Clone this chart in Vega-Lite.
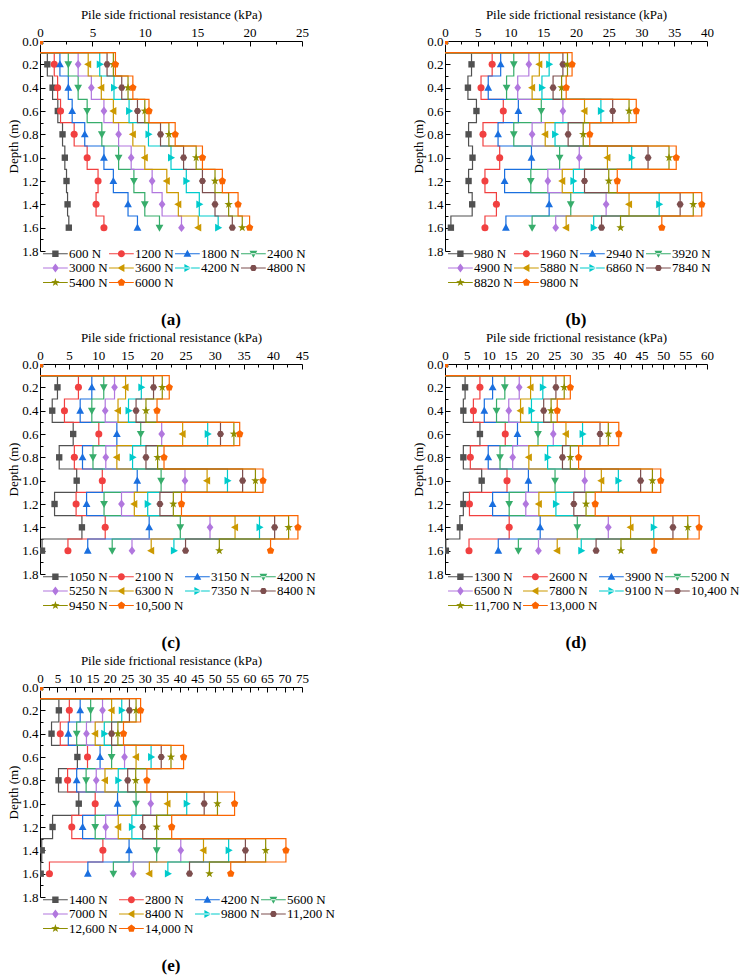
{
  "$schema": "https://vega.github.io/schema/vega-lite/v6.json",
  "padding": {"left": 7, "top": 8, "right": 2, "bottom": 5},
  "params": [
    {
      "name": "legendPaths",
      "value": [
        "M-3.5,-0.14H3.5V0.14H-3.5ZM-0.9,-0.9H0.9V0.9H-0.9Z",
        "M-3.5,-0.14H3.5V0.14H-3.5ZM1,0A1,1,0,1,1,-1,0A1,1,0,1,1,1,0Z",
        "M-3.5,-0.14H3.5V0.14H-3.5ZM0,-1.15L1.1,0.85H-1.1Z",
        "M-3.5,-0.14H3.5V0.14H-3.5ZM0,1.15L1.1,-0.85H-1.1Z",
        "M-3.5,-0.14H3.5V0.14H-3.5ZM0,-1.25L0.95,0L0,1.25L-0.95,0Z",
        "M-3.5,-0.14H3.5V0.14H-3.5ZM-1.15,0L0.85,-1.1V1.1Z",
        "M-3.5,-0.14H3.5V0.14H-3.5ZM1.15,0L-0.85,-1.1V1.1Z",
        "M-3.5,-0.14H3.5V0.14H-3.5ZM1,0L0.5,0.87H-0.5L-1,0L-0.5,-0.87H0.5Z",
        "M-3.5,-0.14H3.5V0.14H-3.5ZM0,-1.25L0.294,-0.405L1.189,-0.386L0.476,0.155L0.735,1.011L0,0.5L-0.735,1.011L-0.476,0.155L-1.189,-0.386L-0.294,-0.405Z",
        "M-3.5,-0.14H3.5V0.14H-3.5ZM0,-1.1L1.046,-0.34L0.647,0.89L-0.647,0.89L-1.046,-0.34Z"
      ]
    }
  ],
  "datasets": {
    "a": [
      {"load":"600 N","depth":0,"kPa":0},{"load":"600 N","depth":0.2,"kPa":0.7},{"load":"600 N","depth":0.4,"kPa":1.2},{"load":"600 N","depth":0.6,"kPa":1.7},{"load":"600 N","depth":0.8,"kPa":2.15},{"load":"600 N","depth":1.0,"kPa":2.37},{"load":"600 N","depth":1.2,"kPa":2.53},{"load":"600 N","depth":1.4,"kPa":2.63},{"load":"600 N","depth":1.6,"kPa":2.75},
      {"load":"1200 N","depth":0,"kPa":0},{"load":"1200 N","depth":0.2,"kPa":1.36},{"load":"1200 N","depth":0.4,"kPa":1.68},{"load":"1200 N","depth":0.6,"kPa":1.96},{"load":"1200 N","depth":0.8,"kPa":3.26},{"load":"1200 N","depth":1.0,"kPa":4.5},{"load":"1200 N","depth":1.2,"kPa":5.54},{"load":"1200 N","depth":1.4,"kPa":5.35},{"load":"1200 N","depth":1.6,"kPa":6.1},
      {"load":"1800 N","depth":0,"kPa":0},{"load":"1800 N","depth":0.2,"kPa":1.9},{"load":"1800 N","depth":0.4,"kPa":2.7},{"load":"1800 N","depth":0.6,"kPa":3.07},{"load":"1800 N","depth":0.8,"kPa":4.27},{"load":"1800 N","depth":1.0,"kPa":6.1},{"load":"1800 N","depth":1.2,"kPa":7.0},{"load":"1800 N","depth":1.4,"kPa":8.4},{"load":"1800 N","depth":1.6,"kPa":9.3},
      {"load":"2400 N","depth":0,"kPa":0},{"load":"2400 N","depth":0.2,"kPa":2.7},{"load":"2400 N","depth":0.4,"kPa":3.64},{"load":"2400 N","depth":0.6,"kPa":4.5},{"load":"2400 N","depth":0.8,"kPa":5.9},{"load":"2400 N","depth":1.0,"kPa":7.5},{"load":"2400 N","depth":1.2,"kPa":8.96},{"load":"2400 N","depth":1.4,"kPa":10.0},{"load":"2400 N","depth":1.6,"kPa":11.4},
      {"load":"3000 N","depth":0,"kPa":0},{"load":"3000 N","depth":0.2,"kPa":3.64},{"load":"3000 N","depth":0.4,"kPa":4.9},{"load":"3000 N","depth":0.6,"kPa":6.1},{"load":"3000 N","depth":0.8,"kPa":7.5},{"load":"3000 N","depth":1.0,"kPa":8.7},{"load":"3000 N","depth":1.2,"kPa":10.7},{"load":"3000 N","depth":1.4,"kPa":11.65},{"load":"3000 N","depth":1.6,"kPa":13.5},
      {"load":"3600 N","depth":0,"kPa":0},{"load":"3600 N","depth":0.2,"kPa":4.6},{"load":"3600 N","depth":0.4,"kPa":5.85},{"load":"3600 N","depth":0.6,"kPa":7.0},{"load":"3600 N","depth":0.8,"kPa":8.86},{"load":"3600 N","depth":1.0,"kPa":10.0},{"load":"3600 N","depth":1.2,"kPa":12.1},{"load":"3600 N","depth":1.4,"kPa":13.2},{"load":"3600 N","depth":1.6,"kPa":15.1},
      {"load":"4200 N","depth":0,"kPa":0},{"load":"4200 N","depth":0.2,"kPa":5.7},{"load":"4200 N","depth":0.4,"kPa":7.06},{"load":"4200 N","depth":0.6,"kPa":8.5},{"load":"4200 N","depth":0.8,"kPa":10.35},{"load":"4200 N","depth":1.0,"kPa":12.5},{"load":"4200 N","depth":1.2,"kPa":13.96},{"load":"4200 N","depth":1.4,"kPa":15.2},{"load":"4200 N","depth":1.6,"kPa":17.0},
      {"load":"4800 N","depth":0,"kPa":0},{"load":"4800 N","depth":0.2,"kPa":6.4},{"load":"4800 N","depth":0.4,"kPa":7.8},{"load":"4800 N","depth":0.6,"kPa":9.3},{"load":"4800 N","depth":0.8,"kPa":11.5},{"load":"4800 N","depth":1.0,"kPa":13.7},{"load":"4800 N","depth":1.2,"kPa":15.5},{"load":"4800 N","depth":1.4,"kPa":16.7},{"load":"4800 N","depth":1.6,"kPa":18.35},
      {"load":"5400 N","depth":0,"kPa":0},{"load":"5400 N","depth":0.2,"kPa":7.0},{"load":"5400 N","depth":0.4,"kPa":8.4},{"load":"5400 N","depth":0.6,"kPa":10.0},{"load":"5400 N","depth":0.8,"kPa":12.3},{"load":"5400 N","depth":1.0,"kPa":14.9},{"load":"5400 N","depth":1.2,"kPa":16.7},{"load":"5400 N","depth":1.4,"kPa":18.0},{"load":"5400 N","depth":1.6,"kPa":19.3},
      {"load":"6000 N","depth":0,"kPa":0},{"load":"6000 N","depth":0.2,"kPa":7.2},{"load":"6000 N","depth":0.4,"kPa":8.86},{"load":"6000 N","depth":0.6,"kPa":10.4},{"load":"6000 N","depth":0.8,"kPa":12.9},{"load":"6000 N","depth":1.0,"kPa":15.5},{"load":"6000 N","depth":1.2,"kPa":17.4},{"load":"6000 N","depth":1.4,"kPa":18.9},{"load":"6000 N","depth":1.6,"kPa":20.0}
    ],
    "b": [
      {"load":"980 N","depth":0,"kPa":0},{"load":"980 N","depth":0.2,"kPa":4.05},{"load":"980 N","depth":0.4,"kPa":3.5},{"load":"980 N","depth":0.6,"kPa":4.8},{"load":"980 N","depth":0.8,"kPa":3.6},{"load":"980 N","depth":1.0,"kPa":4.2},{"load":"980 N","depth":1.2,"kPa":3.6},{"load":"980 N","depth":1.4,"kPa":4.15},{"load":"980 N","depth":1.6,"kPa":0.9},
      {"load":"1960 N","depth":0,"kPa":0},{"load":"1960 N","depth":0.2,"kPa":7.2},{"load":"1960 N","depth":0.4,"kPa":5.5},{"load":"1960 N","depth":0.6,"kPa":8.9},{"load":"1960 N","depth":0.8,"kPa":5.8},{"load":"1960 N","depth":1.0,"kPa":8.35},{"load":"1960 N","depth":1.2,"kPa":6.1},{"load":"1960 N","depth":1.4,"kPa":7.85},{"load":"1960 N","depth":1.6,"kPa":6.1},
      {"load":"2940 N","depth":0,"kPa":0},{"load":"2940 N","depth":0.2,"kPa":8.5},{"load":"2940 N","depth":0.4,"kPa":6.6},{"load":"2940 N","depth":0.6,"kPa":11.2},{"load":"2940 N","depth":0.8,"kPa":8.1},{"load":"2940 N","depth":1.0,"kPa":13.2},{"load":"2940 N","depth":1.2,"kPa":9.1},{"load":"2940 N","depth":1.4,"kPa":15.9},{"load":"2940 N","depth":1.6,"kPa":9.3},
      {"load":"3920 N","depth":0,"kPa":0},{"load":"3920 N","depth":0.2,"kPa":10.5},{"load":"3920 N","depth":0.4,"kPa":9.4},{"load":"3920 N","depth":0.6,"kPa":14.7},{"load":"3920 N","depth":0.8,"kPa":10.5},{"load":"3920 N","depth":1.0,"kPa":17.5},{"load":"3920 N","depth":1.2,"kPa":13.1},{"load":"3920 N","depth":1.4,"kPa":19.2},{"load":"3920 N","depth":1.6,"kPa":13.3},
      {"load":"4900 N","depth":0,"kPa":0},{"load":"4900 N","depth":0.2,"kPa":12.8},{"load":"4900 N","depth":0.4,"kPa":11.1},{"load":"4900 N","depth":0.6,"kPa":18.0},{"load":"4900 N","depth":0.8,"kPa":13.3},{"load":"4900 N","depth":1.0,"kPa":20.5},{"load":"4900 N","depth":1.2,"kPa":15.7},{"load":"4900 N","depth":1.4,"kPa":24.6},{"load":"4900 N","depth":1.6,"kPa":16.9},
      {"load":"5880 N","depth":0,"kPa":0},{"load":"5880 N","depth":0.2,"kPa":14.4},{"load":"5880 N","depth":0.4,"kPa":13.3},{"load":"5880 N","depth":0.6,"kPa":21.3},{"load":"5880 N","depth":0.8,"kPa":15.3},{"load":"5880 N","depth":1.0,"kPa":24.8},{"load":"5880 N","depth":1.2,"kPa":17.9},{"load":"5880 N","depth":1.4,"kPa":28.1},{"load":"5880 N","depth":1.6,"kPa":18.5},
      {"load":"6860 N","depth":0,"kPa":0},{"load":"6860 N","depth":0.2,"kPa":15.9},{"load":"6860 N","depth":0.4,"kPa":14.8},{"load":"6860 N","depth":0.6,"kPa":23.8},{"load":"6860 N","depth":0.8,"kPa":16.8},{"load":"6860 N","depth":1.0,"kPa":28.5},{"load":"6860 N","depth":1.2,"kPa":19.6},{"load":"6860 N","depth":1.4,"kPa":32.7},{"load":"6860 N","depth":1.6,"kPa":22.7},
      {"load":"7840 N","depth":0,"kPa":0},{"load":"7840 N","depth":0.2,"kPa":18.0},{"load":"7840 N","depth":0.4,"kPa":16.5},{"load":"7840 N","depth":0.6,"kPa":25.6},{"load":"7840 N","depth":0.8,"kPa":18.8},{"load":"7840 N","depth":1.0,"kPa":31.0},{"load":"7840 N","depth":1.2,"kPa":21.3},{"load":"7840 N","depth":1.4,"kPa":35.9},{"load":"7840 N","depth":1.6,"kPa":23.9},
      {"load":"8820 N","depth":0,"kPa":0},{"load":"8820 N","depth":0.2,"kPa":18.7},{"load":"8820 N","depth":0.4,"kPa":17.8},{"load":"8820 N","depth":0.6,"kPa":28.1},{"load":"8820 N","depth":0.8,"kPa":21.1},{"load":"8820 N","depth":1.0,"kPa":34.2},{"load":"8820 N","depth":1.2,"kPa":25.0},{"load":"8820 N","depth":1.4,"kPa":37.9},{"load":"8820 N","depth":1.6,"kPa":26.8},
      {"load":"9800 N","depth":0,"kPa":0},{"load":"9800 N","depth":0.2,"kPa":19.4},{"load":"9800 N","depth":0.4,"kPa":18.5},{"load":"9800 N","depth":0.6,"kPa":29.2},{"load":"9800 N","depth":0.8,"kPa":22.1},{"load":"9800 N","depth":1.0,"kPa":35.3},{"load":"9800 N","depth":1.2,"kPa":26.3},{"load":"9800 N","depth":1.4,"kPa":39.2},{"load":"9800 N","depth":1.6,"kPa":33.1}
    ],
    "c": [
      {"load":"1050 N","depth":0,"kPa":0},{"load":"1050 N","depth":0.2,"kPa":3.0},{"load":"1050 N","depth":0.4,"kPa":2.1},{"load":"1050 N","depth":0.6,"kPa":5.7},{"load":"1050 N","depth":0.8,"kPa":3.3},{"load":"1050 N","depth":1.0,"kPa":6.3},{"load":"1050 N","depth":1.2,"kPa":2.5},{"load":"1050 N","depth":1.4,"kPa":7.2},{"load":"1050 N","depth":1.6,"kPa":0.35},
      {"load":"2100 N","depth":0,"kPa":0},{"load":"2100 N","depth":0.2,"kPa":6.6},{"load":"2100 N","depth":0.4,"kPa":4.2},{"load":"2100 N","depth":0.6,"kPa":10.1},{"load":"2100 N","depth":0.8,"kPa":5.9},{"load":"2100 N","depth":1.0,"kPa":10.7},{"load":"2100 N","depth":1.2,"kPa":6.2},{"load":"2100 N","depth":1.4,"kPa":11.2},{"load":"2100 N","depth":1.6,"kPa":4.8},
      {"load":"3150 N","depth":0,"kPa":0},{"load":"3150 N","depth":0.2,"kPa":8.9},{"load":"3150 N","depth":0.4,"kPa":6.9},{"load":"3150 N","depth":0.6,"kPa":13.2},{"load":"3150 N","depth":0.8,"kPa":7.3},{"load":"3150 N","depth":1.0,"kPa":16.7},{"load":"3150 N","depth":1.2,"kPa":8.0},{"load":"3150 N","depth":1.4,"kPa":18.75},{"load":"3150 N","depth":1.6,"kPa":8.2},
      {"load":"4200 N","depth":0,"kPa":0},{"load":"4200 N","depth":0.2,"kPa":10.95},{"load":"4200 N","depth":0.4,"kPa":8.9},{"load":"4200 N","depth":0.6,"kPa":17.3},{"load":"4200 N","depth":0.8,"kPa":9.1},{"load":"4200 N","depth":1.0,"kPa":20.8},{"load":"4200 N","depth":1.2,"kPa":11.0},{"load":"4200 N","depth":1.4,"kPa":24.1},{"load":"4200 N","depth":1.6,"kPa":12.4},
      {"load":"5250 N","depth":0,"kPa":0},{"load":"5250 N","depth":0.2,"kPa":12.8},{"load":"5250 N","depth":0.4,"kPa":11.2},{"load":"5250 N","depth":0.6,"kPa":20.9},{"load":"5250 N","depth":0.8,"kPa":11.3},{"load":"5250 N","depth":1.0,"kPa":24.9},{"load":"5250 N","depth":1.2,"kPa":14.0},{"load":"5250 N","depth":1.4,"kPa":29.2},{"load":"5250 N","depth":1.6,"kPa":15.8},
      {"load":"6300 N","depth":0,"kPa":0},{"load":"6300 N","depth":0.2,"kPa":14.7},{"load":"6300 N","depth":0.4,"kPa":13.4},{"load":"6300 N","depth":0.6,"kPa":24.5},{"load":"6300 N","depth":0.8,"kPa":13.2},{"load":"6300 N","depth":1.0,"kPa":28.7},{"load":"6300 N","depth":1.2,"kPa":16.2},{"load":"6300 N","depth":1.4,"kPa":33.5},{"load":"6300 N","depth":1.6,"kPa":19.1},
      {"load":"7350 N","depth":0,"kPa":0},{"load":"7350 N","depth":0.2,"kPa":17.4},{"load":"7350 N","depth":0.4,"kPa":15.2},{"load":"7350 N","depth":0.6,"kPa":28.8},{"load":"7350 N","depth":0.8,"kPa":15.9},{"load":"7350 N","depth":1.0,"kPa":32.2},{"load":"7350 N","depth":1.2,"kPa":18.5},{"load":"7350 N","depth":1.4,"kPa":37.7},{"load":"7350 N","depth":1.6,"kPa":23.0},
      {"load":"8400 N","depth":0,"kPa":0},{"load":"8400 N","depth":0.2,"kPa":19.5},{"load":"8400 N","depth":0.4,"kPa":16.5},{"load":"8400 N","depth":0.6,"kPa":31.0},{"load":"8400 N","depth":0.8,"kPa":18.2},{"load":"8400 N","depth":1.0,"kPa":34.8},{"load":"8400 N","depth":1.2,"kPa":20.6},{"load":"8400 N","depth":1.4,"kPa":40.3},{"load":"8400 N","depth":1.6,"kPa":25.0},
      {"load":"9450 N","depth":0,"kPa":0},{"load":"9450 N","depth":0.2,"kPa":21.0},{"load":"9450 N","depth":0.4,"kPa":18.2},{"load":"9450 N","depth":0.6,"kPa":33.3},{"load":"9450 N","depth":0.8,"kPa":20.2},{"load":"9450 N","depth":1.0,"kPa":37.0},{"load":"9450 N","depth":1.2,"kPa":22.9},{"load":"9450 N","depth":1.4,"kPa":42.7},{"load":"9450 N","depth":1.6,"kPa":30.8},
      {"load":"10,500 N","depth":0,"kPa":0},{"load":"10,500 N","depth":0.2,"kPa":22.2},{"load":"10,500 N","depth":0.4,"kPa":20.1},{"load":"10,500 N","depth":0.6,"kPa":34.3},{"load":"10,500 N","depth":0.8,"kPa":21.3},{"load":"10,500 N","depth":1.0,"kPa":38.3},{"load":"10,500 N","depth":1.2,"kPa":24.3},{"load":"10,500 N","depth":1.4,"kPa":44.3},{"load":"10,500 N","depth":1.6,"kPa":39.6}
    ],
    "d": [
      {"load":"1300 N","depth":0,"kPa":0},{"load":"1300 N","depth":0.2,"kPa":4.6},{"load":"1300 N","depth":0.4,"kPa":4.2},{"load":"1300 N","depth":0.6,"kPa":8.0},{"load":"1300 N","depth":0.8,"kPa":4.2},{"load":"1300 N","depth":1.0,"kPa":8.4},{"load":"1300 N","depth":1.2,"kPa":4.2},{"load":"1300 N","depth":1.4,"kPa":3.4},{"load":"1300 N","depth":1.6,"kPa":0.2},
      {"load":"2600 N","depth":0,"kPa":0},{"load":"2600 N","depth":0.2,"kPa":8.0},{"load":"2600 N","depth":0.4,"kPa":6.5},{"load":"2600 N","depth":0.6,"kPa":13.8},{"load":"2600 N","depth":0.8,"kPa":5.8},{"load":"2600 N","depth":1.0,"kPa":14.2},{"load":"2600 N","depth":1.2,"kPa":5.6},{"load":"2600 N","depth":1.4,"kPa":14.7},{"load":"2600 N","depth":1.6,"kPa":5.5},
      {"load":"3900 N","depth":0,"kPa":0},{"load":"3900 N","depth":0.2,"kPa":10.9},{"load":"3900 N","depth":0.4,"kPa":9.0},{"load":"3900 N","depth":0.6,"kPa":16.6},{"load":"3900 N","depth":0.8,"kPa":9.9},{"load":"3900 N","depth":1.0,"kPa":19.1},{"load":"3900 N","depth":1.2,"kPa":10.9},{"load":"3900 N","depth":1.4,"kPa":21.8},{"load":"3900 N","depth":1.6,"kPa":12.2},
      {"load":"5200 N","depth":0,"kPa":0},{"load":"5200 N","depth":0.2,"kPa":13.7},{"load":"5200 N","depth":0.4,"kPa":11.8},{"load":"5200 N","depth":0.6,"kPa":21.3},{"load":"5200 N","depth":0.8,"kPa":12.6},{"load":"5200 N","depth":1.0,"kPa":25.2},{"load":"5200 N","depth":1.2,"kPa":14.7},{"load":"5200 N","depth":1.4,"kPa":30.3},{"load":"5200 N","depth":1.6,"kPa":16.8},
      {"load":"6500 N","depth":0,"kPa":0},{"load":"6500 N","depth":0.2,"kPa":17.0},{"load":"6500 N","depth":0.4,"kPa":14.6},{"load":"6500 N","depth":0.6,"kPa":24.8},{"load":"6500 N","depth":0.8,"kPa":15.5},{"load":"6500 N","depth":1.0,"kPa":32.0},{"load":"6500 N","depth":1.2,"kPa":18.5},{"load":"6500 N","depth":1.4,"kPa":37.4},{"load":"6500 N","depth":1.6,"kPa":21.4},
      {"load":"7800 N","depth":0,"kPa":0},{"load":"7800 N","depth":0.2,"kPa":19.6},{"load":"7800 N","depth":0.4,"kPa":17.3},{"load":"7800 N","depth":0.6,"kPa":27.7},{"load":"7800 N","depth":0.8,"kPa":19.2},{"load":"7800 N","depth":1.0,"kPa":35.8},{"load":"7800 N","depth":1.2,"kPa":21.5},{"load":"7800 N","depth":1.4,"kPa":42.5},{"load":"7800 N","depth":1.6,"kPa":25.7},
      {"load":"9100 N","depth":0,"kPa":0},{"load":"9100 N","depth":0.2,"kPa":22.4},{"load":"9100 N","depth":0.4,"kPa":19.8},{"load":"9100 N","depth":0.6,"kPa":31.5},{"load":"9100 N","depth":0.8,"kPa":23.5},{"load":"9100 N","depth":1.0,"kPa":39.7},{"load":"9100 N","depth":1.2,"kPa":25.4},{"load":"9100 N","depth":1.4,"kPa":47.8},{"load":"9100 N","depth":1.6,"kPa":31.2},
      {"load":"10,400 N","depth":0,"kPa":0},{"load":"10,400 N","depth":0.2,"kPa":25.4},{"load":"10,400 N","depth":0.4,"kPa":22.6},{"load":"10,400 N","depth":0.6,"kPa":35.5},{"load":"10,400 N","depth":0.8,"kPa":26.9},{"load":"10,400 N","depth":1.0,"kPa":44.8},{"load":"10,400 N","depth":1.2,"kPa":29.5},{"load":"10,400 N","depth":1.4,"kPa":52.2},{"load":"10,400 N","depth":1.6,"kPa":34.6},
      {"load":"11,700 N","depth":0,"kPa":0},{"load":"11,700 N","depth":0.2,"kPa":27.3},{"load":"11,700 N","depth":0.4,"kPa":24.3},{"load":"11,700 N","depth":0.6,"kPa":37.4},{"load":"11,700 N","depth":0.8,"kPa":28.7},{"load":"11,700 N","depth":1.0,"kPa":47.5},{"load":"11,700 N","depth":1.2,"kPa":32.3},{"load":"11,700 N","depth":1.4,"kPa":55.6},{"load":"11,700 N","depth":1.6,"kPa":40.3},
      {"load":"13,000 N","depth":0,"kPa":0},{"load":"13,000 N","depth":0.2,"kPa":28.7},{"load":"13,000 N","depth":0.4,"kPa":25.7},{"load":"13,000 N","depth":0.6,"kPa":39.8},{"load":"13,000 N","depth":0.8,"kPa":30.6},{"load":"13,000 N","depth":1.0,"kPa":49.4},{"load":"13,000 N","depth":1.2,"kPa":34.4},{"load":"13,000 N","depth":1.4,"kPa":58.2},{"load":"13,000 N","depth":1.6,"kPa":47.9}
    ],
    "e": [
      {"load":"1400 N","depth":0,"kPa":0},{"load":"1400 N","depth":0.2,"kPa":5.4},{"load":"1400 N","depth":0.4,"kPa":3.3},{"load":"1400 N","depth":0.6,"kPa":10.7},{"load":"1400 N","depth":0.8,"kPa":5.3},{"load":"1400 N","depth":1.0,"kPa":11.1},{"load":"1400 N","depth":1.2,"kPa":3.6},{"load":"1400 N","depth":1.4,"kPa":0.5},{"load":"1400 N","depth":1.6,"kPa":0.2},
      {"load":"2800 N","depth":0,"kPa":0},{"load":"2800 N","depth":0.2,"kPa":8.4},{"load":"2800 N","depth":0.4,"kPa":5.8},{"load":"2800 N","depth":0.6,"kPa":13.6},{"load":"2800 N","depth":0.8,"kPa":7.9},{"load":"2800 N","depth":1.0,"kPa":15.8},{"load":"2800 N","depth":1.2,"kPa":9.1},{"load":"2800 N","depth":1.4,"kPa":18.0},{"load":"2800 N","depth":1.6,"kPa":2.7},
      {"load":"4200 N","depth":0,"kPa":0},{"load":"4200 N","depth":0.2,"kPa":11.5},{"load":"4200 N","depth":0.4,"kPa":8.1},{"load":"4200 N","depth":0.6,"kPa":17.2},{"load":"4200 N","depth":0.8,"kPa":10.5},{"load":"4200 N","depth":1.0,"kPa":22.2},{"load":"4200 N","depth":1.2,"kPa":12.2},{"load":"4200 N","depth":1.4,"kPa":25.5},{"load":"4200 N","depth":1.6,"kPa":13.7},
      {"load":"5600 N","depth":0,"kPa":0},{"load":"5600 N","depth":0.2,"kPa":14.5},{"load":"5600 N","depth":0.4,"kPa":10.5},{"load":"5600 N","depth":0.6,"kPa":20.5},{"load":"5600 N","depth":0.8,"kPa":13.2},{"load":"5600 N","depth":1.0,"kPa":27.5},{"load":"5600 N","depth":1.2,"kPa":15.8},{"load":"5600 N","depth":1.4,"kPa":33.4},{"load":"5600 N","depth":1.6,"kPa":21.0},
      {"load":"7000 N","depth":0,"kPa":0},{"load":"7000 N","depth":0.2,"kPa":17.9},{"load":"7000 N","depth":0.4,"kPa":13.3},{"load":"7000 N","depth":0.6,"kPa":24.2},{"load":"7000 N","depth":0.8,"kPa":16.1},{"load":"7000 N","depth":1.0,"kPa":31.7},{"load":"7000 N","depth":1.2,"kPa":18.8},{"load":"7000 N","depth":1.4,"kPa":40.3},{"load":"7000 N","depth":1.6,"kPa":26.7},
      {"load":"8400 N","depth":0,"kPa":0},{"load":"8400 N","depth":0.2,"kPa":20.5},{"load":"8400 N","depth":0.4,"kPa":15.8},{"load":"8400 N","depth":0.6,"kPa":27.5},{"load":"8400 N","depth":0.8,"kPa":18.6},{"load":"8400 N","depth":1.0,"kPa":36.5},{"load":"8400 N","depth":1.2,"kPa":22.4},{"load":"8400 N","depth":1.4,"kPa":46.8},{"load":"8400 N","depth":1.6,"kPa":31.3},
      {"load":"9800 N","depth":0,"kPa":0},{"load":"9800 N","depth":0.2,"kPa":23.4},{"load":"9800 N","depth":0.4,"kPa":18.4},{"load":"9800 N","depth":0.6,"kPa":31.8},{"load":"9800 N","depth":0.8,"kPa":22.4},{"load":"9800 N","depth":1.0,"kPa":42.0},{"load":"9800 N","depth":1.2,"kPa":26.3},{"load":"9800 N","depth":1.4,"kPa":54.0},{"load":"9800 N","depth":1.6,"kPa":36.6},
      {"load":"11,200 N","depth":0,"kPa":0},{"load":"11,200 N","depth":0.2,"kPa":25.6},{"load":"11,200 N","depth":0.4,"kPa":20.5},{"load":"11,200 N","depth":0.6,"kPa":34.7},{"load":"11,200 N","depth":0.8,"kPa":25.1},{"load":"11,200 N","depth":1.0,"kPa":47.0},{"load":"11,200 N","depth":1.2,"kPa":29.4},{"load":"11,200 N","depth":1.4,"kPa":58.8},{"load":"11,200 N","depth":1.6,"kPa":42.8},
      {"load":"12,600 N","depth":0,"kPa":0},{"load":"12,600 N","depth":0.2,"kPa":27.5},{"load":"12,600 N","depth":0.4,"kPa":22.3},{"load":"12,600 N","depth":0.6,"kPa":37.5},{"load":"12,600 N","depth":0.8,"kPa":27.4},{"load":"12,600 N","depth":1.0,"kPa":50.8},{"load":"12,600 N","depth":1.2,"kPa":33.4},{"load":"12,600 N","depth":1.4,"kPa":64.6},{"load":"12,600 N","depth":1.6,"kPa":48.5},
      {"load":"14,000 N","depth":0,"kPa":0},{"load":"14,000 N","depth":0.2,"kPa":28.8},{"load":"14,000 N","depth":0.4,"kPa":23.9},{"load":"14,000 N","depth":0.6,"kPa":41.1},{"load":"14,000 N","depth":0.8,"kPa":30.6},{"load":"14,000 N","depth":1.0,"kPa":55.7},{"load":"14,000 N","depth":1.2,"kPa":37.7},{"load":"14,000 N","depth":1.4,"kPa":70.4},{"load":"14,000 N","depth":1.6,"kPa":54.6}
    ]
  },
  "columns": 2,
  "spacing": {"row": 3, "column": 70},
  "resolve": {"scale": {"color": "independent", "shape": "independent"}, "legend": {"color": "independent", "shape": "independent"}},
  "concat": [
    {
      "data": {"name": "a"},
      "width": 262, "height": 210,
      "title": {"text": "(a)", "orient": "bottom", "font": "Liberation Serif", "fontSize": 17, "fontWeight": "bold", "color": "black", "offset": 15},
      "encoding": {
        "x": {"field": "kPa", "type": "quantitative", "scale": {"domain": [0, 25], "nice": false},
          "axis": {"orient": "top", "title": "Pile side frictional resistance (kPa)", "values": [0, 2.5, 5, 7.5, 10, 12.5, 15, 17.5, 20, 22.5, 25], "format": "d", "labelOverlap": false, "labelFlush": false, "labelExpr": "datum.value % 5 === 0 ? datum.label : ''", "tickSize": {"condition": {"test": "datum.value % 5 === 0", "value": -5}, "value": -3}, "labelFont": "Liberation Serif", "labelFontSize": 13, "titleFont": "Liberation Serif", "titleFontSize": 13, "titleFontWeight": "normal", "labelColor": "black", "titleColor": "black", "domainColor": "black", "tickColor": "black", "grid": false, "labelPadding": 7, "titlePadding": 3}},
        "y": {"field": "depth", "type": "quantitative", "title": "Depth (m)", "scale": {"domain": [0, 1.8], "reverse": true, "nice": false},
          "axis": {"values": [0, 0.1, 0.2, 0.3, 0.4, 0.5, 0.6, 0.7, 0.8, 0.9, 1.0, 1.1, 1.2, 1.3, 1.4, 1.5, 1.6, 1.7, 1.8], "format": ".1f", "labelFlush": false, "labelExpr": "round(datum.value * 10) % 2 === 0 ? datum.label : ''", "tickSize": {"condition": {"test": "round(datum.value * 10) % 2 === 0", "value": -5}, "value": -3}, "labelFont": "Liberation Serif", "labelFontSize": 13, "titleFont": "Liberation Serif", "titleFontSize": 13, "titleFontWeight": "normal", "labelColor": "black", "titleColor": "black", "domainColor": "black", "tickColor": "black", "grid": false, "labelPadding": 7, "titlePadding": 1}},
        "color": {"field": "load", "type": "nominal",
          "scale": {"domain": ["600 N","1200 N","1800 N","2400 N","3000 N","3600 N","4200 N","4800 N","5400 N","6000 N"], "range": ["#515151","#F14040","#1A6FDF","#37AD6B","#B177DE","#CC9900","#00CBCC","#7D4E4E","#8E8E00","#FB6501"]},
          "legend": {"title": null, "orient": "bottom", "offset": -11, "columns": 4, "labelFont": "Liberation Serif", "labelFontSize": 13, "labelColor": "black", "symbolSize": 50, "symbolStrokeWidth": 0, "symbolOffset": 1.9, "labelOffset": 7, "columnPadding": 1, "rowPadding": 0.5, "padding": 7,
            "encode": {"symbols": {"update": {"shape": {"signal": "legendPaths[datum.index]"}}}}}}
      },
      "layer": [
        {
          "transform": [{"calculate": "min(datum.depth + 0.1, 1.6)", "as": "edge"}],
          "mark": {"type": "line", "interpolate": "step-after", "strokeWidth": 1.2},
          "encoding": {
            "y": {"field": "edge", "type": "quantitative", "title": "Depth (m)", "scale": {"domain": [0, 1.8], "reverse": true, "nice": false}},
            "order": {"field": "depth"}
          }
        },
        {
          "mark": {"type": "point", "filled": true, "size": 50, "opacity": 1, "strokeWidth": 0, "clip": true},
          "encoding": {
            "shape": {"field": "load", "type": "nominal", "legend": null,
              "scale": {"domain": ["6000 N","5400 N","4800 N","4200 N","3600 N","3000 N","2400 N","1800 N","1200 N","600 N"], "range": ["M0,-1.1L1.046,-0.34L0.647,0.89L-0.647,0.89L-1.046,-0.34Z","M0,-1.25L0.294,-0.405L1.189,-0.386L0.476,0.155L0.735,1.011L0,0.5L-0.735,1.011L-0.476,0.155L-1.189,-0.386L-0.294,-0.405Z","M1,0L0.5,0.87H-0.5L-1,0L-0.5,-0.87H0.5Z","M1.15,0L-0.85,-1.1V1.1Z","M-1.15,0L0.85,-1.1V1.1Z","M0,-1.25L0.95,0L0,1.25L-0.95,0Z","M0,1.15L1.1,-0.85H-1.1Z","M0,-1.15L1.1,0.85H-1.1Z","circle","M-0.9,-0.9H0.9V0.9H-0.9Z"]}}
          }
        }
      ]
    },
    {
      "data": {"name": "b"},
      "width": 262, "height": 210,
      "title": {"text": "(b)", "orient": "bottom", "font": "Liberation Serif", "fontSize": 17, "fontWeight": "bold", "color": "black", "offset": 15},
      "encoding": {
        "x": {"field": "kPa", "type": "quantitative", "scale": {"domain": [0, 40], "nice": false},
          "axis": {"orient": "top", "title": "Pile side frictional resistance (kPa)", "values": [0, 2.5, 5, 7.5, 10, 12.5, 15, 17.5, 20, 22.5, 25, 27.5, 30, 32.5, 35, 37.5, 40], "format": "d", "labelOverlap": false, "labelFlush": false, "labelExpr": "datum.value % 5 === 0 ? datum.label : ''", "tickSize": {"condition": {"test": "datum.value % 5 === 0", "value": -5}, "value": -3}, "labelFont": "Liberation Serif", "labelFontSize": 13, "titleFont": "Liberation Serif", "titleFontSize": 13, "titleFontWeight": "normal", "labelColor": "black", "titleColor": "black", "domainColor": "black", "tickColor": "black", "grid": false, "labelPadding": 7, "titlePadding": 3}},
        "y": {"field": "depth", "type": "quantitative", "title": "Depth (m)", "scale": {"domain": [0, 1.8], "reverse": true, "nice": false},
          "axis": {"values": [0, 0.1, 0.2, 0.3, 0.4, 0.5, 0.6, 0.7, 0.8, 0.9, 1.0, 1.1, 1.2, 1.3, 1.4, 1.5, 1.6, 1.7, 1.8], "format": ".1f", "labelFlush": false, "labelExpr": "round(datum.value * 10) % 2 === 0 ? datum.label : ''", "tickSize": {"condition": {"test": "round(datum.value * 10) % 2 === 0", "value": -5}, "value": -3}, "labelFont": "Liberation Serif", "labelFontSize": 13, "titleFont": "Liberation Serif", "titleFontSize": 13, "titleFontWeight": "normal", "labelColor": "black", "titleColor": "black", "domainColor": "black", "tickColor": "black", "grid": false, "labelPadding": 7, "titlePadding": 1}},
        "color": {"field": "load", "type": "nominal",
          "scale": {"domain": ["980 N","1960 N","2940 N","3920 N","4900 N","5880 N","6860 N","7840 N","8820 N","9800 N"], "range": ["#515151","#F14040","#1A6FDF","#37AD6B","#B177DE","#CC9900","#00CBCC","#7D4E4E","#8E8E00","#FB6501"]},
          "legend": {"title": null, "orient": "bottom", "offset": -11, "columns": 4, "labelFont": "Liberation Serif", "labelFontSize": 13, "labelColor": "black", "symbolSize": 50, "symbolStrokeWidth": 0, "symbolOffset": 1.9, "labelOffset": 7, "columnPadding": 1, "rowPadding": 0.5, "padding": 7,
            "encode": {"symbols": {"update": {"shape": {"signal": "legendPaths[datum.index]"}}}}}}
      },
      "layer": [
        {
          "transform": [{"calculate": "min(datum.depth + 0.1, 1.6)", "as": "edge"}],
          "mark": {"type": "line", "interpolate": "step-after", "strokeWidth": 1.2},
          "encoding": {
            "y": {"field": "edge", "type": "quantitative", "title": "Depth (m)", "scale": {"domain": [0, 1.8], "reverse": true, "nice": false}},
            "order": {"field": "depth"}
          }
        },
        {
          "mark": {"type": "point", "filled": true, "size": 50, "opacity": 1, "strokeWidth": 0, "clip": true},
          "encoding": {
            "shape": {"field": "load", "type": "nominal", "legend": null,
              "scale": {"domain": ["9800 N","8820 N","7840 N","6860 N","5880 N","4900 N","3920 N","2940 N","1960 N","980 N"], "range": ["M0,-1.1L1.046,-0.34L0.647,0.89L-0.647,0.89L-1.046,-0.34Z","M0,-1.25L0.294,-0.405L1.189,-0.386L0.476,0.155L0.735,1.011L0,0.5L-0.735,1.011L-0.476,0.155L-1.189,-0.386L-0.294,-0.405Z","M1,0L0.5,0.87H-0.5L-1,0L-0.5,-0.87H0.5Z","M1.15,0L-0.85,-1.1V1.1Z","M-1.15,0L0.85,-1.1V1.1Z","M0,-1.25L0.95,0L0,1.25L-0.95,0Z","M0,1.15L1.1,-0.85H-1.1Z","M0,-1.15L1.1,0.85H-1.1Z","circle","M-0.9,-0.9H0.9V0.9H-0.9Z"]}}
          }
        }
      ]
    },
    {
      "data": {"name": "c"},
      "width": 262, "height": 210,
      "title": {"text": "(c)", "orient": "bottom", "font": "Liberation Serif", "fontSize": 17, "fontWeight": "bold", "color": "black", "offset": 15},
      "encoding": {
        "x": {"field": "kPa", "type": "quantitative", "scale": {"domain": [0, 45], "nice": false},
          "axis": {"orient": "top", "title": "Pile side frictional resistance (kPa)", "values": [0, 2.5, 5, 7.5, 10, 12.5, 15, 17.5, 20, 22.5, 25, 27.5, 30, 32.5, 35, 37.5, 40, 42.5, 45], "format": "d", "labelOverlap": false, "labelFlush": false, "labelExpr": "datum.value % 5 === 0 ? datum.label : ''", "tickSize": {"condition": {"test": "datum.value % 5 === 0", "value": -5}, "value": -3}, "labelFont": "Liberation Serif", "labelFontSize": 13, "titleFont": "Liberation Serif", "titleFontSize": 13, "titleFontWeight": "normal", "labelColor": "black", "titleColor": "black", "domainColor": "black", "tickColor": "black", "grid": false, "labelPadding": 7, "titlePadding": 3}},
        "y": {"field": "depth", "type": "quantitative", "title": "Depth (m)", "scale": {"domain": [0, 1.8], "reverse": true, "nice": false},
          "axis": {"values": [0, 0.1, 0.2, 0.3, 0.4, 0.5, 0.6, 0.7, 0.8, 0.9, 1.0, 1.1, 1.2, 1.3, 1.4, 1.5, 1.6, 1.7, 1.8], "format": ".1f", "labelFlush": false, "labelExpr": "round(datum.value * 10) % 2 === 0 ? datum.label : ''", "tickSize": {"condition": {"test": "round(datum.value * 10) % 2 === 0", "value": -5}, "value": -3}, "labelFont": "Liberation Serif", "labelFontSize": 13, "titleFont": "Liberation Serif", "titleFontSize": 13, "titleFontWeight": "normal", "labelColor": "black", "titleColor": "black", "domainColor": "black", "tickColor": "black", "grid": false, "labelPadding": 7, "titlePadding": 1}},
        "color": {"field": "load", "type": "nominal",
          "scale": {"domain": ["1050 N","2100 N","3150 N","4200 N","5250 N","6300 N","7350 N","8400 N","9450 N","10,500 N"], "range": ["#515151","#F14040","#1A6FDF","#37AD6B","#B177DE","#CC9900","#00CBCC","#7D4E4E","#8E8E00","#FB6501"]},
          "legend": {"title": null, "orient": "bottom", "offset": -11, "columns": 4, "labelFont": "Liberation Serif", "labelFontSize": 13, "labelColor": "black", "symbolSize": 50, "symbolStrokeWidth": 0, "symbolOffset": 1.9, "labelOffset": 7, "columnPadding": 1, "rowPadding": 0.5, "padding": 7,
            "encode": {"symbols": {"update": {"shape": {"signal": "legendPaths[datum.index]"}}}}}}
      },
      "layer": [
        {
          "transform": [{"calculate": "min(datum.depth + 0.1, 1.6)", "as": "edge"}],
          "mark": {"type": "line", "interpolate": "step-after", "strokeWidth": 1.2},
          "encoding": {
            "y": {"field": "edge", "type": "quantitative", "title": "Depth (m)", "scale": {"domain": [0, 1.8], "reverse": true, "nice": false}},
            "order": {"field": "depth"}
          }
        },
        {
          "mark": {"type": "point", "filled": true, "size": 50, "opacity": 1, "strokeWidth": 0, "clip": true},
          "encoding": {
            "shape": {"field": "load", "type": "nominal", "legend": null,
              "scale": {"domain": ["10,500 N","9450 N","8400 N","7350 N","6300 N","5250 N","4200 N","3150 N","2100 N","1050 N"], "range": ["M0,-1.1L1.046,-0.34L0.647,0.89L-0.647,0.89L-1.046,-0.34Z","M0,-1.25L0.294,-0.405L1.189,-0.386L0.476,0.155L0.735,1.011L0,0.5L-0.735,1.011L-0.476,0.155L-1.189,-0.386L-0.294,-0.405Z","M1,0L0.5,0.87H-0.5L-1,0L-0.5,-0.87H0.5Z","M1.15,0L-0.85,-1.1V1.1Z","M-1.15,0L0.85,-1.1V1.1Z","M0,-1.25L0.95,0L0,1.25L-0.95,0Z","M0,1.15L1.1,-0.85H-1.1Z","M0,-1.15L1.1,0.85H-1.1Z","circle","M-0.9,-0.9H0.9V0.9H-0.9Z"]}}
          }
        }
      ]
    },
    {
      "data": {"name": "d"},
      "width": 262, "height": 210,
      "title": {"text": "(d)", "orient": "bottom", "font": "Liberation Serif", "fontSize": 17, "fontWeight": "bold", "color": "black", "offset": 15},
      "encoding": {
        "x": {"field": "kPa", "type": "quantitative", "scale": {"domain": [0, 60], "nice": false},
          "axis": {"orient": "top", "title": "Pile side frictional resistance (kPa)", "values": [0, 2.5, 5, 7.5, 10, 12.5, 15, 17.5, 20, 22.5, 25, 27.5, 30, 32.5, 35, 37.5, 40, 42.5, 45, 47.5, 50, 52.5, 55, 57.5, 60], "format": "d", "labelOverlap": false, "labelFlush": false, "labelExpr": "datum.value % 5 === 0 ? datum.label : ''", "tickSize": {"condition": {"test": "datum.value % 5 === 0", "value": -5}, "value": -3}, "labelFont": "Liberation Serif", "labelFontSize": 13, "titleFont": "Liberation Serif", "titleFontSize": 13, "titleFontWeight": "normal", "labelColor": "black", "titleColor": "black", "domainColor": "black", "tickColor": "black", "grid": false, "labelPadding": 7, "titlePadding": 3}},
        "y": {"field": "depth", "type": "quantitative", "title": "Depth (m)", "scale": {"domain": [0, 1.8], "reverse": true, "nice": false},
          "axis": {"values": [0, 0.1, 0.2, 0.3, 0.4, 0.5, 0.6, 0.7, 0.8, 0.9, 1.0, 1.1, 1.2, 1.3, 1.4, 1.5, 1.6, 1.7, 1.8], "format": ".1f", "labelFlush": false, "labelExpr": "round(datum.value * 10) % 2 === 0 ? datum.label : ''", "tickSize": {"condition": {"test": "round(datum.value * 10) % 2 === 0", "value": -5}, "value": -3}, "labelFont": "Liberation Serif", "labelFontSize": 13, "titleFont": "Liberation Serif", "titleFontSize": 13, "titleFontWeight": "normal", "labelColor": "black", "titleColor": "black", "domainColor": "black", "tickColor": "black", "grid": false, "labelPadding": 7, "titlePadding": 1}},
        "color": {"field": "load", "type": "nominal",
          "scale": {"domain": ["1300 N","2600 N","3900 N","5200 N","6500 N","7800 N","9100 N","10,400 N","11,700 N","13,000 N"], "range": ["#515151","#F14040","#1A6FDF","#37AD6B","#B177DE","#CC9900","#00CBCC","#7D4E4E","#8E8E00","#FB6501"]},
          "legend": {"title": null, "orient": "bottom", "offset": -11, "columns": 4, "labelFont": "Liberation Serif", "labelFontSize": 13, "labelColor": "black", "symbolSize": 50, "symbolStrokeWidth": 0, "symbolOffset": 1.9, "labelOffset": 7, "columnPadding": 1, "rowPadding": 0.5, "padding": 7,
            "encode": {"symbols": {"update": {"shape": {"signal": "legendPaths[datum.index]"}}}}}}
      },
      "layer": [
        {
          "transform": [{"calculate": "min(datum.depth + 0.1, 1.6)", "as": "edge"}],
          "mark": {"type": "line", "interpolate": "step-after", "strokeWidth": 1.2},
          "encoding": {
            "y": {"field": "edge", "type": "quantitative", "title": "Depth (m)", "scale": {"domain": [0, 1.8], "reverse": true, "nice": false}},
            "order": {"field": "depth"}
          }
        },
        {
          "mark": {"type": "point", "filled": true, "size": 50, "opacity": 1, "strokeWidth": 0, "clip": true},
          "encoding": {
            "shape": {"field": "load", "type": "nominal", "legend": null,
              "scale": {"domain": ["13,000 N","11,700 N","10,400 N","9100 N","7800 N","6500 N","5200 N","3900 N","2600 N","1300 N"], "range": ["M0,-1.1L1.046,-0.34L0.647,0.89L-0.647,0.89L-1.046,-0.34Z","M0,-1.25L0.294,-0.405L1.189,-0.386L0.476,0.155L0.735,1.011L0,0.5L-0.735,1.011L-0.476,0.155L-1.189,-0.386L-0.294,-0.405Z","M1,0L0.5,0.87H-0.5L-1,0L-0.5,-0.87H0.5Z","M1.15,0L-0.85,-1.1V1.1Z","M-1.15,0L0.85,-1.1V1.1Z","M0,-1.25L0.95,0L0,1.25L-0.95,0Z","M0,1.15L1.1,-0.85H-1.1Z","M0,-1.15L1.1,0.85H-1.1Z","circle","M-0.9,-0.9H0.9V0.9H-0.9Z"]}}
          }
        }
      ]
    },
    {
      "data": {"name": "e"},
      "width": 262, "height": 210,
      "title": {"text": "(e)", "orient": "bottom", "font": "Liberation Serif", "fontSize": 17, "fontWeight": "bold", "color": "black", "offset": 15},
      "encoding": {
        "x": {"field": "kPa", "type": "quantitative", "scale": {"domain": [0, 75], "nice": false},
          "axis": {"orient": "top", "title": "Pile side frictional resistance (kPa)", "values": [0, 2.5, 5, 7.5, 10, 12.5, 15, 17.5, 20, 22.5, 25, 27.5, 30, 32.5, 35, 37.5, 40, 42.5, 45, 47.5, 50, 52.5, 55, 57.5, 60, 62.5, 65, 67.5, 70, 72.5, 75], "format": "d", "labelOverlap": false, "labelFlush": false, "labelExpr": "datum.value % 5 === 0 ? datum.label : ''", "tickSize": {"condition": {"test": "datum.value % 5 === 0", "value": -5}, "value": -3}, "labelFont": "Liberation Serif", "labelFontSize": 13, "titleFont": "Liberation Serif", "titleFontSize": 13, "titleFontWeight": "normal", "labelColor": "black", "titleColor": "black", "domainColor": "black", "tickColor": "black", "grid": false, "labelPadding": 7, "titlePadding": 3}},
        "y": {"field": "depth", "type": "quantitative", "title": "Depth (m)", "scale": {"domain": [0, 1.8], "reverse": true, "nice": false},
          "axis": {"values": [0, 0.1, 0.2, 0.3, 0.4, 0.5, 0.6, 0.7, 0.8, 0.9, 1.0, 1.1, 1.2, 1.3, 1.4, 1.5, 1.6, 1.7, 1.8], "format": ".1f", "labelFlush": false, "labelExpr": "round(datum.value * 10) % 2 === 0 ? datum.label : ''", "tickSize": {"condition": {"test": "round(datum.value * 10) % 2 === 0", "value": -5}, "value": -3}, "labelFont": "Liberation Serif", "labelFontSize": 13, "titleFont": "Liberation Serif", "titleFontSize": 13, "titleFontWeight": "normal", "labelColor": "black", "titleColor": "black", "domainColor": "black", "tickColor": "black", "grid": false, "labelPadding": 7, "titlePadding": 1}},
        "color": {"field": "load", "type": "nominal",
          "scale": {"domain": ["1400 N","2800 N","4200 N","5600 N","7000 N","8400 N","9800 N","11,200 N","12,600 N","14,000 N"], "range": ["#515151","#F14040","#1A6FDF","#37AD6B","#B177DE","#CC9900","#00CBCC","#7D4E4E","#8E8E00","#FB6501"]},
          "legend": {"title": null, "orient": "bottom", "offset": -11, "columns": 4, "labelFont": "Liberation Serif", "labelFontSize": 13, "labelColor": "black", "symbolSize": 50, "symbolStrokeWidth": 0, "symbolOffset": 1.9, "labelOffset": 7, "columnPadding": 1, "rowPadding": 0.5, "padding": 7,
            "encode": {"symbols": {"update": {"shape": {"signal": "legendPaths[datum.index]"}}}}}}
      },
      "layer": [
        {
          "transform": [{"calculate": "min(datum.depth + 0.1, 1.6)", "as": "edge"}],
          "mark": {"type": "line", "interpolate": "step-after", "strokeWidth": 1.2},
          "encoding": {
            "y": {"field": "edge", "type": "quantitative", "title": "Depth (m)", "scale": {"domain": [0, 1.8], "reverse": true, "nice": false}},
            "order": {"field": "depth"}
          }
        },
        {
          "mark": {"type": "point", "filled": true, "size": 50, "opacity": 1, "strokeWidth": 0, "clip": true},
          "encoding": {
            "shape": {"field": "load", "type": "nominal", "legend": null,
              "scale": {"domain": ["14,000 N","12,600 N","11,200 N","9800 N","8400 N","7000 N","5600 N","4200 N","2800 N","1400 N"], "range": ["M0,-1.1L1.046,-0.34L0.647,0.89L-0.647,0.89L-1.046,-0.34Z","M0,-1.25L0.294,-0.405L1.189,-0.386L0.476,0.155L0.735,1.011L0,0.5L-0.735,1.011L-0.476,0.155L-1.189,-0.386L-0.294,-0.405Z","M1,0L0.5,0.87H-0.5L-1,0L-0.5,-0.87H0.5Z","M1.15,0L-0.85,-1.1V1.1Z","M-1.15,0L0.85,-1.1V1.1Z","M0,-1.25L0.95,0L0,1.25L-0.95,0Z","M0,1.15L1.1,-0.85H-1.1Z","M0,-1.15L1.1,0.85H-1.1Z","circle","M-0.9,-0.9H0.9V0.9H-0.9Z"]}}
          }
        }
      ]
    }
  ],
  "config": {
    "font": "Liberation Serif",
    "view": {"stroke": null}
  }
}
